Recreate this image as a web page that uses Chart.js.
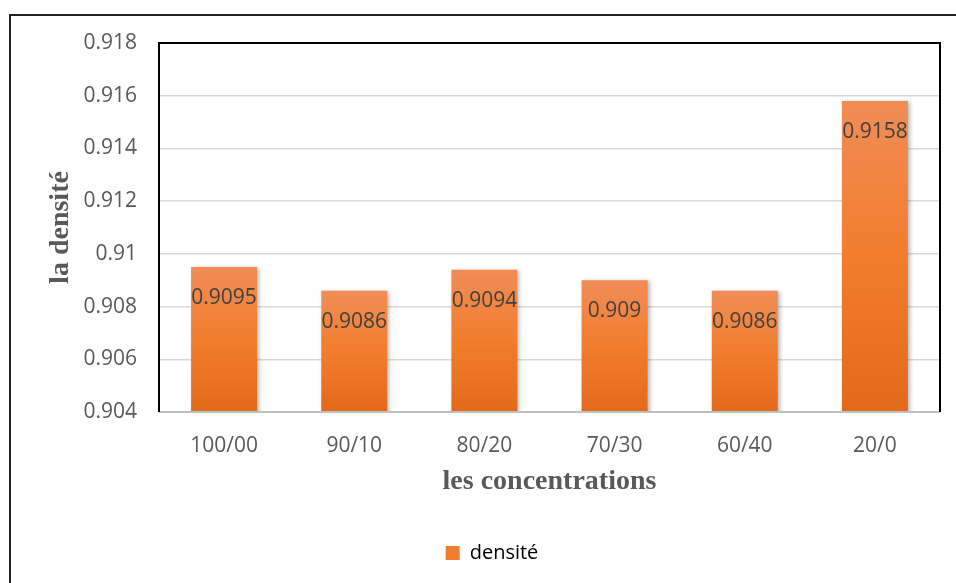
<!DOCTYPE html>
<html>
<head>
<meta charset="utf-8">
<script src="https://cdn.jsdelivr.net/npm/chart.js@4.4.1/dist/chart.umd.min.js"></script>
<style>
  html, body { margin: 0; padding: 0; background: #fff; }
  #wrap { position: relative; width: 956px; height: 583px; }
</style>
</head>
<body>
<div id="wrap"><canvas id="densiteChart" width="956" height="583"></canvas></div>
<script>
// catégories (rapports de mélange) et densités mesurées
const concentrations = ['100/00', '90/10', '80/20', '70/30', '60/40', '20/0'];
const densites = [0.9095, 0.9086, 0.9094, 0.909, 0.9086, 0.9158];

// bornes de l'axe des densités
const yMin = 0.904;
const yMax = 0.918;
const yStep = 0.002;

const txtFont = "'Open Sans', 'Noto Sans', sans-serif";
const titleFont = "'Liberation Serif', 'DejaVu Serif', serif";

// dégradé orange de haut en bas de chaque barre
function barGradient(context) {
    const chart = context.chart;
    const yScale = chart.scales.y;
    if (!chart.chartArea || !yScale || context.dataIndex === undefined) return '#f07e2e';
    const v = context.dataset.data[context.dataIndex];
    const top = yScale.getPixelForValue(v);
    const base = yScale.getPixelForValue(yMin);
    const g = chart.ctx.createLinearGradient(0, top, 0, base);
    g.addColorStop(0, '#f08d56');
    g.addColorStop(0.5, '#f27d2d');
    g.addColorStop(1, '#e3691b');
    return g;
}

// cadre extérieur, bordure de la zone de tracé et ombre des barres
const framePlugin = {
    id: 'frame',
    beforeDatasetsDraw(chart) {
        const ctx = chart.ctx;
        ctx.save();
        ctx.shadowColor = 'rgba(0,0,0,0.28)';
        ctx.shadowBlur = 4;
        ctx.shadowOffsetX = 2;
        ctx.shadowOffsetY = 1;
    },
    afterDatasetsDraw(chart) {
        const ctx = chart.ctx;
        ctx.restore();
        const a = chart.chartArea;

        // axe horizontal gris
        ctx.save();
        ctx.strokeStyle = '#bfbfbf';
        ctx.lineWidth = 2;
        ctx.beginPath();
        ctx.moveTo(a.left, a.bottom);
        ctx.lineTo(a.right, a.bottom);
        ctx.stroke();

        // bordure noire gauche / haut / droite
        ctx.strokeStyle = '#000';
        ctx.lineWidth = 2;
        ctx.beginPath();
        ctx.moveTo(a.left, a.bottom);
        ctx.lineTo(a.left, a.top);
        ctx.lineTo(a.right, a.top);
        ctx.lineTo(a.right, a.bottom);
        ctx.stroke();

        // cadre du graphique
        ctx.strokeStyle = '#222';
        ctx.beginPath();
        ctx.moveTo(10, 600);
        ctx.lineTo(10, 15);
        ctx.lineTo(960, 15);
        ctx.stroke();

        // étiquettes de valeur dans les barres
        ctx.fillStyle = '#404040';
        ctx.font = '21px ' + txtFont;
        ctx.textAlign = 'center';
        ctx.textBaseline = 'middle';
        const meta = chart.getDatasetMeta(0);
        meta.data.forEach((bar, i) => {
            ctx.fillText(String(densites[i]), bar.x, bar.y + 31);
        });
        ctx.restore();
    }
};

new Chart(document.getElementById('densiteChart'), {
    type: 'bar',
    data: {
        labels: concentrations,
        datasets: [{
            label: 'densité',
            data: densites,
            backgroundColor: barGradient,
            borderWidth: 0,
            categoryPercentage: 1,
            barPercentage: 0.507
        }]
    },
    options: {
        responsive: false,
        animation: false,
        layout: { padding: { left: 44, right: 16, top: 43, bottom: 10 } },
        plugins: {
            tooltip: { enabled: false },
            legend: {
                position: 'bottom',
                labels: {
                    boxWidth: 14,
                    boxHeight: 14,
                    color: '#595959',
                    font: { family: txtFont, size: 20 },
                    generateLabels(chart) {
                        return [{
                            text: 'densité',
                            fillStyle: '#f07e2e',
                            strokeStyle: '#f07e2e',
                            lineWidth: 0,
                            datasetIndex: 0
                        }];
                    }
                }
            }
        },
        scales: {
            x: {
                grid: { display: false, drawTicks: false },
                border: { display: false },
                ticks: {
                    color: '#595959',
                    padding: 21,
                    font: { family: txtFont, size: 21 }
                },
                title: {
                    display: true,
                    text: 'les concentrations',
                    color: '#595959',
                    font: { family: titleFont, size: 28, weight: 'bold' },
                    padding: { top: 0, bottom: 34 }
                },
                afterFit(scale) { scale.height = 121; }
            },
            y: {
                min: yMin,
                max: yMax,
                grid: { color: '#d9d9d9', lineWidth: 1.5, drawTicks: false },
                border: { display: false },
                ticks: {
                    stepSize: yStep,
                    color: '#595959',
                    padding: 22,
                    font: { family: txtFont, size: 21 },
                    callback: v => String(+v.toFixed(3))
                },
                title: {
                    display: true,
                    text: 'la densité',
                    color: '#595959',
                    font: { family: titleFont, size: 28, weight: 'bold' },
                    padding: { top: 0, bottom: 0 }
                },
                afterFit(scale) { scale.width = 115; }
            }
        }
    },
    plugins: [framePlugin]
});
</script>
</body>
</html>
